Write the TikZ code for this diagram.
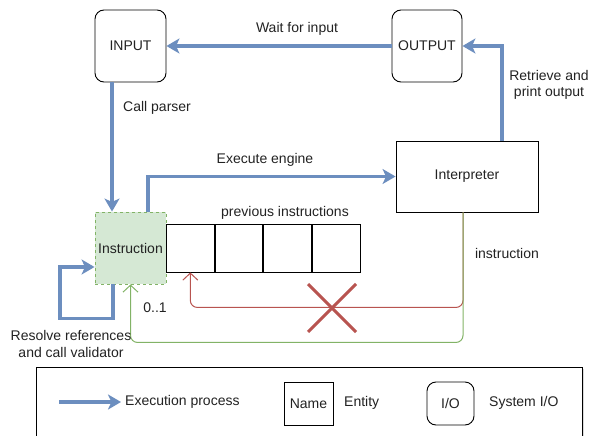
\documentclass[tikz,border=0pt]{standalone}
\usepackage{fontspec}
\setmainfont{Liberation Sans}
\usetikzlibrary{arrows.meta,calc}
\definecolor{flowblue}{HTML}{6C8EBF}
\definecolor{instgreen}{HTML}{82B366}
\definecolor{instfill}{HTML}{D5E8D4}
\definecolor{xred}{HTML}{B85450}
\definecolor{txt}{HTML}{222222}
\begin{document}
\begin{tikzpicture}[x=1pt,y=-1pt,
  every node/.style={font=\fontsize{14}{16.5}\selectfont, inner sep=0pt, text=txt},
  iobox/.style={draw, rounded corners=9pt, line width=0.9pt, minimum width=71pt, minimum height=72pt},
  entbox/.style={draw, line width=0.9pt},
  instbox/.style={draw=instgreen, fill=instfill, dash pattern=on 3pt off 3pt, line width=0.9pt, minimum width=71pt, minimum height=72pt},
  cellbox/.style={draw, line width=0.9pt, minimum width=47.75pt, minimum height=48pt, anchor=west},
  flow/.style={draw=flowblue, line width=3.2pt, -{Stealth[length=13pt,width=15pt,inset=3.5pt]}},
  redflow/.style={draw=xred, line width=1pt, rounded corners=7pt, -{Straight Barb[length=7pt,width=15pt,line width=1pt]}},
  greenflow/.style={draw=instgreen, line width=1pt, rounded corners=7pt, -{Straight Barb[length=7pt,width=15pt,line width=1pt]}},
  lbl/.style={align=center}
]
\useasboundingbox (0,0) rectangle (597,436);

% nodes
\node[iobox] (input) at (130.5,46) {INPUT};
\node[iobox, minimum width=70pt] (output) at (427,46) {OUTPUT};
\node[entbox, minimum width=142pt, minimum height=71pt] (interp) at (467,176.5) {Interpreter};
\node[instbox] (instr) at (130.5,248) {Instruction};
\node[cellbox] (c1) at (166,248) {};
\node[cellbox] (c2) at (c1.east) {};
\node[cellbox] (c3) at (c2.east) {};
\node[cellbox] (c4) at (c3.east) {};

% blue flows
\draw[flow] (output.west) -- (input.east);
\draw[flow] ([xshift=35pt]interp.north) |- (output.east);
\draw[flow] ([xshift=-18.5pt]input.south) -- ([xshift=-18.5pt]instr.north);
\draw[flow] ([xshift=17.5pt]instr.north) |- (interp.west);
\draw[flow] ([xshift=-17.5pt]instr.south) -- ++(0,34) -- ++(-53,0) |- ($(instr.west)+(0,19)$);

% red and green
\draw[redflow] ($(interp.south)+(-4,0)$) -- ++(0,95) -| (c1.south);
\draw[greenflow] ($(interp.south)+(-4,0)$) -- ++(0,130) -| (instr.south);

% red cross
\coordinate (xc) at (332,308);
\draw[xred, line width=3pt] ($(xc)+(-24,-24)$) -- ($(xc)+(24,24)$)
  ($(xc)+(-24,24)$) -- ($(xc)+(24,-24)$);

% labels
\node[lbl] (lwait) at (297,29) {Wait for input};
\node[lbl] (lret) at (549,85) {Retrieve and\\print output};
\node[anchor=west] (lparse) at (123,108) {Call parser};
\node[lbl] (lexec) at (265,160) {Execute engine};
\node[lbl] (lprev) at (285,213) {previous instructions};
\node[lbl] (linst) at (507,253) {instruction};
\node[lbl] (lzero) at (155,308) {0..1};
\node[lbl] (lres) at (71,344) {Resolve references\\and call validator};

% legend
\fill[gray!30] (38,369) rectangle (584,448);
\draw[line width=0.9pt, fill=white] (36,367) rectangle (582,445);
\coordinate (la1) at (59,402);
\coordinate (la2) at (121,402);
\draw[flow] (la1) -- (la2);
\node[anchor=west] (lexp) at (125,402) {Execution process};
\node[entbox, minimum width=49pt, minimum height=43pt] (namebox) at (308.5,403.5) {Name};
\node[anchor=west] (lent) at (344,403) {Entity};
\node[iobox, minimum width=47pt, minimum height=43pt] (iobox) at (450.5,403.5) {I/O};
\node[anchor=west] (lsys) at (489,403) {System I/O};
\end{tikzpicture}
\end{document}
